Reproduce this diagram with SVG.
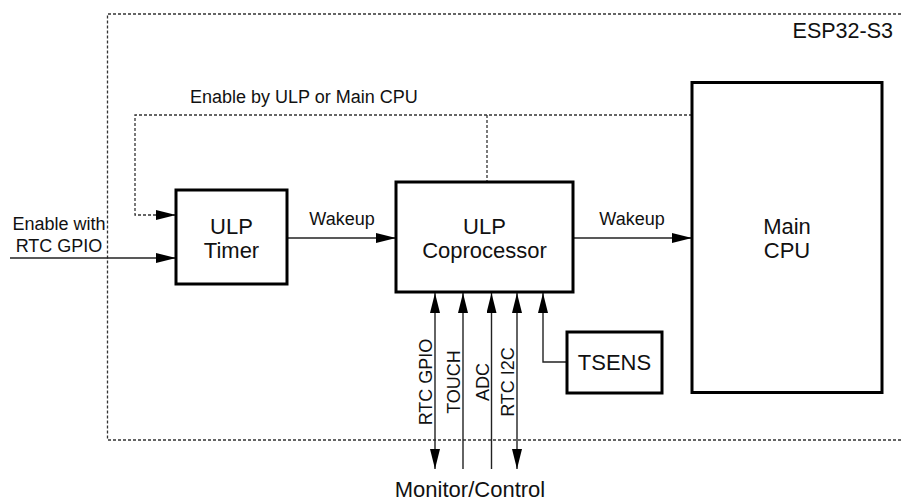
<svg xmlns="http://www.w3.org/2000/svg" width="901" height="501" viewBox="0 0 901 501">
<defs>
<style>
.box{fill:#fff;stroke:#000;stroke-width:3}
.ln{fill:none;stroke:#222;stroke-width:1.4}
.dot{fill:none;stroke:#333;stroke-width:1.3;stroke-dasharray:3 2}
.t{font-family:"Liberation Sans",Arial,sans-serif;fill:#111}
.n{font-size:22px;text-anchor:middle}
.e{font-size:18px}
</style>
<marker id="ah" viewBox="0 0 20 10" refX="20" refY="5" markerWidth="20" markerHeight="10" markerUnits="userSpaceOnUse" orient="auto-start-reverse">
<path d="M0,0 L20,5 L0,10 z" fill="#000"/>
</marker>
</defs>
<rect width="901" height="501" fill="#fff"/>
<g id="chip">
<path class="dot" d="M901,14 H107.5 V440 H901"/>
<text class="t" x="893" y="38" font-size="21.5" text-anchor="end">ESP32-S3</text>
</g>
<g id="connectors">
<path class="dot" d="M692,115 H135 V215 H176" marker-end="url(#ah)"/>
<path class="dot" d="M487,115 V182"/>
<text class="t e" x="190" y="103">Enable by ULP or Main CPU</text>
<path class="ln" d="M10,258 H176" marker-end="url(#ah)"/>
<text class="t e" x="59" y="230" text-anchor="middle">Enable with</text>
<text class="t e" x="59" y="252" text-anchor="middle">RTC GPIO</text>
<path class="ln" d="M287,238 H396" marker-end="url(#ah)"/>
<text class="t e" x="342" y="225" text-anchor="middle">Wakeup</text>
<path class="ln" d="M573,238 H692" marker-end="url(#ah)"/>
<text class="t e" x="632" y="225" text-anchor="middle">Wakeup</text>
<path class="ln" d="M435,469 V293" marker-start="url(#ah)" marker-end="url(#ah)"/>
<path class="ln" d="M463,469 V293" marker-end="url(#ah)"/>
<path class="ln" d="M491.5,469 V293" marker-end="url(#ah)"/>
<path class="ln" d="M517,469 V293" marker-start="url(#ah)" marker-end="url(#ah)"/>
<path class="ln" d="M567,362 H543 V293" marker-end="url(#ah)"/>
<text class="t e" transform="translate(432,382) rotate(-90)" text-anchor="middle">RTC GPIO</text>
<text class="t e" transform="translate(460,382) rotate(-90)" text-anchor="middle">TOUCH</text>
<text class="t e" transform="translate(489,382) rotate(-90)" text-anchor="middle">ADC</text>
<text class="t e" transform="translate(514,382) rotate(-90)" text-anchor="middle">RTC I2C</text>
<text class="t" x="470" y="497" font-size="22" text-anchor="middle">Monitor/Control</text>
</g>
<g id="ulp-timer">
<rect class="box" x="176" y="190" width="111" height="94"/>
<text class="t n" x="231.5" y="233.5">ULP</text>
<text class="t n" x="231.5" y="257.5">Timer</text>
</g>
<g id="ulp-coprocessor">
<rect class="box" x="396" y="182" width="177" height="110"/>
<text class="t n" x="484.5" y="233.5">ULP</text>
<text class="t n" x="484.5" y="257.5">Coprocessor</text>
</g>
<g id="main-cpu">
<rect class="box" x="692" y="82.5" width="190" height="310"/>
<text class="t n" x="787" y="233.5">Main</text>
<text class="t n" x="787" y="257.5">CPU</text>
</g>
<g id="tsens">
<rect class="box" x="567" y="332" width="95" height="61"/>
<text class="t n" x="614.5" y="370">TSENS</text>
</g>
</svg>
